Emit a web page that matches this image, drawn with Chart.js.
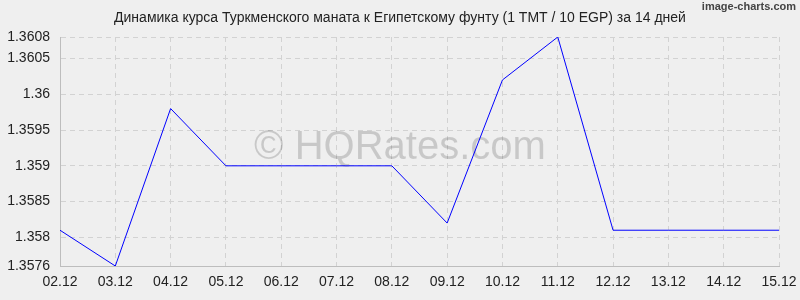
<!DOCTYPE html>
<html>
<head>
<meta charset="utf-8">
<script src="https://cdn.jsdelivr.net/npm/chart.js@4.4.1/dist/chart.umd.min.js"></script>
<style>
    html, body { margin: 0; padding: 0; background: #efefef; }
    #wrap { width: 800px; height: 300px; position: relative; }
</style>
</head>
<body>
<div id="wrap"><canvas id="lineChart" width="800" height="300"></canvas></div>
<script>
// dados do gráfico
const dias = ['02.12', '03.12', '04.12', '05.12', '06.12', '07.12', '08.12', '09.12', '10.12', '11.12', '12.12', '13.12', '14.12', '15.12'];
const cotacoes = [1.3581, 1.3576, 1.3598, 1.3590, 1.3590, 1.3590, 1.3590, 1.3582, 1.3602, 1.3608, 1.3581, 1.3581, 1.3581, 1.3581];
const ticksY = [1.3576, 1.358, 1.3585, 1.359, 1.3595, 1.36, 1.3605, 1.3608];
const titulo = 'Динамика курса Туркменского маната к Египетскому фунту (1 TMT / 10 EGP) за 14 дней';

const fonte = "'Liberation Sans', Arial, sans-serif";

// título, marca d'água e texto do canto
const extras = {
    id: 'extras',
    beforeDatasetsDraw(chart) {
        const ctx = chart.ctx;
        ctx.save();
        ctx.fillStyle = 'rgba(0,0,0,0.16)';
        ctx.font = '40px ' + fonte;
        ctx.textAlign = 'center';
        ctx.textBaseline = 'middle';
        ctx.fillText('© HQRates.com', 400, 148);
        ctx.restore();
    },
    afterDraw(chart) {
        const ctx = chart.ctx;
        ctx.save();
        ctx.fillStyle = '#222';
        ctx.font = '14px ' + fonte;
        ctx.textAlign = 'center';
        ctx.textBaseline = 'middle';
        ctx.fillText(titulo, 400, 18);
        ctx.fillStyle = '#444';
        ctx.font = 'bold 11px ' + fonte;
        ctx.textAlign = 'right';
        ctx.fillText('image-charts.com', 796, 7);
        ctx.restore();
    }
};

const ctxLine = document.getElementById('lineChart').getContext('2d');
new Chart(ctxLine, {
    type: 'line',
    data: {
        labels: dias,
        datasets: [{
            data: cotacoes,
            borderColor: '#0000ff',
            borderWidth: 1,
            pointRadius: 0,
            tension: 0,
            fill: false
        }]
    },
    options: {
        responsive: false,
        animation: false,
        layout: { padding: { top: 37, right: 21, left: 0, bottom: 0 } },
        plugins: { legend: { display: false }, title: { display: false }, tooltip: { enabled: false } },
        scales: {
            x: {
                offset: false,
                grid: { color: '#d2d2d2', drawTicks: false },
                border: { color: '#bdbdbd', dash: [5, 4] },
                ticks: { color: '#222', font: { family: fonte, size: 14 }, padding: 8, maxRotation: 0, autoSkip: false },
                afterFit(scale) { scale.height = 34; scale.paddingRight = 0; }
            },
            y: {
                min: 1.3576,
                max: 1.3608,
                afterBuildTicks(scale) { scale.ticks = ticksY.map(v => ({ value: v })); },
                grid: { color: '#d2d2d2', drawTicks: false },
                border: { color: '#bdbdbd', dash: [5, 4] },
                ticks: {
                    color: '#222',
                    font: { family: fonte, size: 14 },
                    padding: 10,
                    callback: v => String(parseFloat(v.toFixed(4)))
                },
                afterFit(scale) { scale.width = 60; }
            }
        }
    },
    plugins: [extras]
});
</script>
</body>
</html>
